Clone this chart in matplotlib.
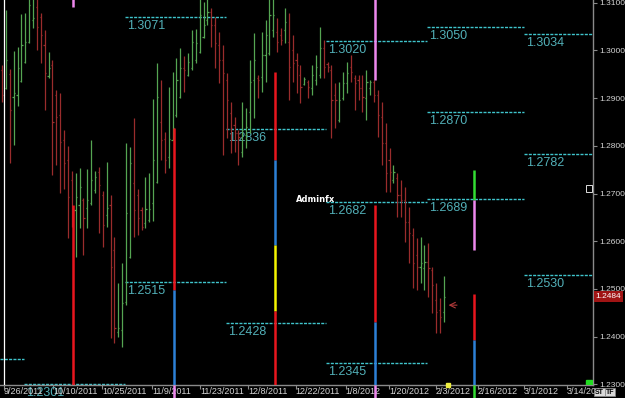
import matplotlib
matplotlib.use("Agg")
import matplotlib.pyplot as plt
import matplotlib.transforms as mtransforms
from matplotlib.collections import LineCollection
from matplotlib.patches import Rectangle

# daily bars, oldest first
opens = [
    1.2959, 1.2921, 1.2951, 1.2902, 1.2906, 1.2936, 1.2976, 1.3018, 1.3064, 1.3091,
    1.3070, 1.3011, 1.2946, 1.2969, 1.2906, 1.2865, 1.2812, 1.2770, 1.2728, 1.2665,
    1.2676, 1.2686, 1.2670, 1.2680, 1.2707, 1.2745, 1.2697, 1.2655, 1.2676, 1.2582,
    1.2410, 1.2414, 1.2473, 1.2567, 1.2722, 1.2697, 1.2665, 1.2638, 1.2644, 1.2680,
    1.2724, 1.2850, 1.2815, 1.2777, 1.2812, 1.2865, 1.2902, 1.2963, 1.2948, 1.2963,
    1.2980, 1.2997, 1.3028, 1.3064, 1.3081, 1.3053, 1.3011, 1.2980, 1.2938, 1.2869,
    1.2844, 1.2827, 1.2787, 1.2823, 1.2871, 1.2938, 1.2942, 1.2944, 1.2990, 1.2995,
    1.3043, 1.3039, 1.3032, 1.3043, 1.3018, 1.3001, 1.2980, 1.2948, 1.2929, 1.2934,
    1.2921, 1.2938, 1.2948, 1.3005, 1.2972, 1.2959, 1.2906, 1.2854, 1.2900, 1.2932,
    1.2965, 1.2942, 1.2938, 1.2921, 1.2900, 1.2921, 1.2934, 1.2906, 1.2860, 1.2806,
    1.2770, 1.2728, 1.2732, 1.2697, 1.2686, 1.2640, 1.2613, 1.2571, 1.2546, 1.2544,
    1.2557, 1.2540, 1.2477, 1.2456, 1.2452,
]
highs = [
    1.2969, 1.3085, 1.2961, 1.2999, 1.3007, 1.3076, 1.3078, 1.3116, 1.3123, 1.3114,
    1.3078, 1.3043, 1.2997, 1.2980, 1.2917, 1.2911, 1.2833, 1.2800, 1.2747, 1.2743,
    1.2753, 1.2691, 1.2751, 1.2812, 1.2747, 1.2756, 1.2705, 1.2766, 1.2697, 1.2609,
    1.2512, 1.2554, 1.2806, 1.2798, 1.2858, 1.2709, 1.2672, 1.2735, 1.2743, 1.2898,
    1.2974, 1.2938, 1.2829, 1.2923, 1.2955, 1.2984, 1.3005, 1.2988, 1.2995, 1.3043,
    1.3045, 1.3114, 1.3102, 1.3118, 1.3089, 1.3070, 1.3039, 1.3011, 1.2953, 1.2892,
    1.2860, 1.2833, 1.2892, 1.2879, 1.2980, 1.3037, 1.2948, 1.3039, 1.3064, 1.3116,
    1.3112, 1.3068, 1.3047, 1.3089, 1.3078, 1.3032, 1.2995, 1.2969, 1.2944, 1.2938,
    1.2969, 1.2990, 1.3049, 1.3022, 1.2976, 1.2969, 1.2932, 1.2934, 1.2955, 1.2976,
    1.2990, 1.2948, 1.2948, 1.2948, 1.2959, 1.2938, 1.2938, 1.2917, 1.2892, 1.2848,
    1.2795, 1.2760, 1.2743, 1.2728, 1.2714, 1.2672, 1.2628, 1.2607, 1.2609, 1.2592,
    1.2596, 1.2546, 1.2512, 1.2481, 1.2527,
]
lows = [
    1.2892, 1.2919, 1.2764, 1.2802, 1.2883, 1.2934, 1.2974, 1.3016, 1.3047, 1.3001,
    1.2974, 1.2875, 1.2942, 1.2739, 1.2760, 1.2701, 1.2710, 1.2607, 1.2630, 1.2567,
    1.2628, 1.2571, 1.2628, 1.2676, 1.2701, 1.2617, 1.2588, 1.2630, 1.2397, 1.2387,
    1.2399, 1.2378, 1.2466, 1.2565, 1.2609, 1.2613, 1.2624, 1.2628, 1.2640, 1.2642,
    1.2722, 1.2770, 1.2743, 1.2753, 1.2812, 1.2860, 1.2900, 1.2913, 1.2946, 1.2959,
    1.2974, 1.2995, 1.3026, 1.3053, 1.3007, 1.2963, 1.2932, 1.2781, 1.2816, 1.2785,
    1.2787, 1.2760, 1.2777, 1.2795, 1.2827, 1.2858, 1.2900, 1.2913, 1.2934, 1.2990,
    1.3028, 1.2997, 1.3011, 1.3016, 1.2896, 1.2934, 1.2911, 1.2890, 1.2927, 1.2900,
    1.2906, 1.2927, 1.2942, 1.2942, 1.2955, 1.2816, 1.2837, 1.2850, 1.2896, 1.2911,
    1.2934, 1.2875, 1.2896, 1.2871, 1.2854, 1.2906, 1.2892, 1.2818, 1.2760, 1.2703,
    1.2703, 1.2722, 1.2651, 1.2651, 1.2598, 1.2555, 1.2502, 1.2498, 1.2512, 1.2498,
    1.2483, 1.2450, 1.2408, 1.2408, 1.2431,
]
closes = [
    1.2907, 1.2980, 1.2875, 1.2911, 1.2963, 1.3011, 1.3018, 1.3095, 1.3068, 1.3049,
    1.3032, 1.2953, 1.2963, 1.2850, 1.2860, 1.2808, 1.2764, 1.2693, 1.2640, 1.2693,
    1.2714, 1.2649, 1.2686, 1.2728, 1.2735, 1.2718, 1.2634, 1.2670, 1.2546, 1.2418,
    1.2418, 1.2470, 1.2659, 1.2764, 1.2665, 1.2649, 1.2630, 1.2667, 1.2667, 1.2770,
    1.2902, 1.2812, 1.2770, 1.2815, 1.2837, 1.2938, 1.2963, 1.2959, 1.2976, 1.3018,
    1.3016, 1.3074, 1.3053, 1.3081, 1.3053, 1.3016, 1.2980, 1.2953, 1.2896, 1.2837,
    1.2827, 1.2818, 1.2833, 1.2840, 1.2934, 1.2980, 1.2938, 1.2990, 1.3032, 1.3074,
    1.3074, 1.3018, 1.3022, 1.3060, 1.2965, 1.2974, 1.2969, 1.2923, 1.2940, 1.2923,
    1.2948, 1.2965, 1.3005, 1.2965, 1.2965, 1.2896, 1.2896, 1.2896, 1.2932, 1.2953,
    1.2955, 1.2932, 1.2921, 1.2902, 1.2934, 1.2934, 1.2906, 1.2865, 1.2806, 1.2743,
    1.2745, 1.2745, 1.2697, 1.2686, 1.2640, 1.2617, 1.2555, 1.2546, 1.2555, 1.2557,
    1.2544, 1.2508, 1.2452, 1.2441, 1.2484,
]

date_ticks = [0.5, 13.2, 25.8, 38.7, 51.1, 63.5, 75.8, 88.7, 99.8, 111.9, 122.8, 134.6, 145.7]
date_labels = ["9/26/2011", "10/10/2011", "10/25/2011", "11/9/2011", "11/23/2011", "12/8/2011",
               "12/22/2011", "1/8/2012", "1/20/2012", "2/3/2012", "2/16/2012", "3/1/2012", "3/14/2012"]
price_ticks = [1.23, 1.24, 1.25, 1.26, 1.27, 1.28, 1.29, 1.30, 1.31]

# monthly levels (cyan dashed)
month_edges = [-0.5, 5.8, 31.7, 57.8, 83.7, 109.6, 134.6, 152.4]
month_levels = [
    [1.2353],
    [1.2301],
    [1.3071, 1.2515],
    [1.2836, 1.2428],
    [1.3020, 1.2682, 1.2345],
    [1.3050, 1.2870, 1.2689],
    [1.3034, 1.2782, 1.2530],
]

# cycle markers: position, segments (top, bottom, colour), mark under the axis
cycle_x = [18.3, 44.5, 70.4, 96.2, 121.7]
cycle_segments = [
    [(1.3110, 1.3091, "pink"), (1.2676, 1.2290, "red")],
    [(1.2837, 1.2498, "red"), (1.2498, 1.2290, "blue")],
    [(1.2955, 1.2770, "red"), (1.2770, 1.2592, "blue"), (1.2592, 1.2454, "yellow"), (1.2454, 1.2290, "red")],
    [(1.3110, 1.2938, "pink"), (1.2676, 1.2431, "red"), (1.2431, 1.2290, "blue")],
    [(1.2749, 1.2686, "green"), (1.2686, 1.2582, "pink"), (1.2489, 1.2393, "red"), (1.2393, 1.2290, "blue")],
]
cycle_marks = [None, "pink", None, "pink", "green"]
arrow_price = 1.2466

colours = {"red": "#e8161e", "blue": "#2d80d6", "yellow": "#f4f400",
           "pink": "#ee88ee", "green": "#33dd33"}
GREY = "#8a8a8a"
TXT = "#d4d4d4"
CYAN = "#3fc4cc"
FONT = ["Liberation Sans", "DejaVu Sans"]


def draw_bars(ax):
    segs, cols = [], []
    for i, (o, h, l, c) in enumerate(zip(opens, highs, lows, closes)):
        col = "#55a552" if c >= o else "#9a2c2c"
        segs += [[(i, l), (i, h)], [(i - 0.3, o), (i, o)], [(i, c), (i + 0.3, c)]]
        cols += [col] * 3
    ax.add_collection(LineCollection(segs, colors=cols, linewidths=0.9, zorder=3))


def draw_levels(ax):
    for m, levels in enumerate(month_levels):
        x0, x1 = month_edges[m], month_edges[m + 1]
        for lvl in levels:
            ax.plot([x0, x1], [lvl, lvl], color=CYAN, lw=1.0, ls=(0, (2.2, 0.9)), zorder=2)
            if m == 0:
                continue
            ax.annotate(f"{lvl:.4f}", xy=(x0, lvl), xytext=(2, -3), textcoords="offset pixels",
                        ha="left", va="top", color="#52b0b8", fontsize=9, family=FONT,
                        zorder=2, annotation_clip=False)


def draw_cycles(ax):
    below = mtransforms.blended_transform_factory(ax.transData, ax.transAxes)
    for x, segs, mark in zip(cycle_x, cycle_segments, cycle_marks):
        for top, bot, c in segs:
            ax.plot([x, x], [bot, top], color=colours[c], lw=1.8, solid_capstyle="butt", zorder=4)
        if mark:
            ax.plot([x, x], [0, -0.034], color=colours[mark], lw=1.8, transform=below,
                    clip_on=False, solid_capstyle="butt", zorder=4)


fig = plt.figure(figsize=(6.25, 3.98), dpi=100, facecolor="black")
ax = fig.add_axes([0, 13 / 398, 592.7 / 625, 385 / 398], facecolor="black")
ax.set_xlim(-0.52, 152.4)
ax.set_ylim(1.22986, 1.31057)

draw_levels(ax)
draw_bars(ax)
draw_cycles(ax)

# left border line
ax.axvline(0.39, color="white", lw=0.9, zorder=5)

ax.annotate("", xy=(len(closes) - 0.5, arrow_price), xytext=(len(closes) + 3.1, arrow_price),
            arrowprops=dict(arrowstyle="->", color="#b03a3a", lw=0.8))
ax.text(75.8, 1.2688, "Adminfx", color="white", fontsize=6, fontweight="bold",
        ha="left", va="center", zorder=6)

for s in ["top", "left"]:
    ax.spines[s].set_visible(False)
for s in ["bottom", "right"]:
    ax.spines[s].set_color(GREY)
    ax.spines[s].set_linewidth(1.0)

ax.yaxis.tick_right()
ax.set_yticks(price_ticks)
ax.set_yticklabels([f"{p:.4f}" for p in price_ticks])
ax.tick_params(axis="y", colors=GREY, labelcolor=TXT, labelsize=6, length=3, pad=2)
for lbl in ax.get_yticklabels():
    lbl.set_family(FONT)

ax.set_xticks(date_ticks)
ax.set_xticklabels([])
ax.tick_params(axis="x", colors=GREY, length=3)
below = mtransforms.blended_transform_factory(ax.transData, ax.transAxes)
clip = Rectangle((0, 0), 592.7 / 625, 1, transform=fig.transFigure)
for t, lbl in zip(date_ticks, date_labels):
    txt = ax.text(t, -0.006, lbl, transform=below, ha="left", va="top", color=TXT,
                  fontsize=6.5, family=FONT, clip_on=False)
    txt.set_clip_path(clip)

# current price box
ax.annotate(f"{closes[-1]:.4f}", xy=(1.0, closes[-1]), xycoords=("axes fraction", "data"),
            xytext=(3, 0), textcoords="offset pixels", ha="left", va="center", color="white",
            fontsize=6, family=FONT,
            bbox=dict(boxstyle="square,pad=0.25", fc="#a01414", ec="none"))

# small markers
ax.plot([len(closes)], [ax.get_ylim()[0]], marker="s", ms=2.5, color="#f0f040", clip_on=False, zorder=6)
ax.add_patch(Rectangle((0.9888, 0.0), 0.0102, 0.013, transform=ax.transAxes, color="#22dd22", zorder=6))
ax.add_patch(Rectangle((0.9888, 0.501), 0.0095, 0.018, transform=ax.transAxes, fc="black",
                       ec="white", lw=0.6, zorder=6))
for x, s in [(595 / 625, "ST"), (606 / 625, "TF")]:
    fig.text(x, 6 / 398, s, fontsize=5, color="black", fontweight="bold", ha="left", va="center",
             family=FONT, bbox=dict(boxstyle="square,pad=0.1", fc="#d8d8d8", ec="#888888", lw=0.5))

fig.savefig("out.png", dpi=100, facecolor="black")
